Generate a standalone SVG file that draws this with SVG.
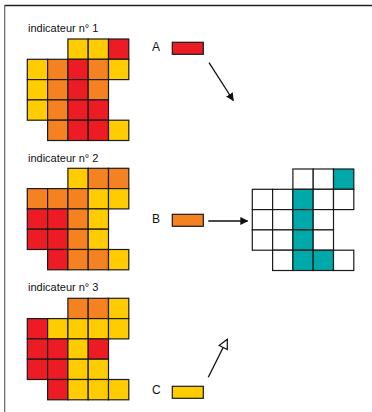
<svg xmlns="http://www.w3.org/2000/svg" width="372" height="412" viewBox="0 0 372 412">
<defs>
<style>
.c{stroke:#1a1a1a;stroke-width:1.2}
.r{fill:#ED1C24}.o{fill:#F58220}.y{fill:#FFCC00}.w{fill:#ffffff}.t{fill:#00A9A9}
.lbl{font-family:"Liberation Sans",Arial,sans-serif;font-size:11px;fill:#111}
.let{font-family:"Liberation Sans",Arial,sans-serif;font-size:12px;fill:#111}
.conn{stroke:#111;stroke-width:1.3;fill:none}
</style>
<marker id="af" viewBox="0 0 10 10" refX="9" refY="5" markerWidth="8" markerHeight="8" markerUnits="userSpaceOnUse" orient="auto"><path d="M0,0 L10,5 L0,10 Z" fill="#111"/></marker>
<marker id="ao" viewBox="0 0 12 12" refX="11" refY="6" markerWidth="11" markerHeight="11" markerUnits="userSpaceOnUse" orient="auto"><path d="M1,1 L11,6 L1,11 Z" fill="#fff" stroke="#111" stroke-width="1.3"/></marker>
</defs>
<rect width="372" height="412" fill="#fff"/>
<line x1="4.7" y1="5.5" x2="372" y2="5.5" stroke="#222" stroke-width="1.3"/>
<line x1="4.7" y1="5" x2="4.7" y2="412" stroke="#666" stroke-width="1.2"/>

<g id="indicateur1">
<text class="lbl" x="28" y="32">indicateur n° 1</text>
<g transform="translate(27.3,39)">
<rect class="c y" x="40.6" y="0" width="20.3" height="20.3"/><rect class="c y" x="60.9" y="0" width="20.3" height="20.3"/><rect class="c r" x="81.2" y="0" width="20.3" height="20.3"/>
<rect class="c y" x="0" y="20.3" width="20.3" height="20.3"/><rect class="c o" x="20.3" y="20.3" width="20.3" height="20.3"/><rect class="c r" x="40.6" y="20.3" width="20.3" height="20.3"/><rect class="c o" x="60.9" y="20.3" width="20.3" height="20.3"/><rect class="c y" x="81.2" y="20.3" width="20.3" height="20.3"/>
<rect class="c y" x="0" y="40.6" width="20.3" height="20.3"/><rect class="c o" x="20.3" y="40.6" width="20.3" height="20.3"/><rect class="c r" x="40.6" y="40.6" width="20.3" height="20.3"/><rect class="c o" x="60.9" y="40.6" width="20.3" height="20.3"/>
<rect class="c y" x="0" y="60.9" width="20.3" height="20.3"/><rect class="c o" x="20.3" y="60.9" width="20.3" height="20.3"/><rect class="c r" x="40.6" y="60.9" width="20.3" height="20.3"/><rect class="c r" x="60.9" y="60.9" width="20.3" height="20.3"/>
<rect class="c o" x="20.3" y="81.2" width="20.3" height="20.3"/><rect class="c r" x="40.6" y="81.2" width="20.3" height="20.3"/><rect class="c r" x="60.9" y="81.2" width="20.3" height="20.3"/><rect class="c y" x="81.2" y="81.2" width="20.3" height="20.3"/>
</g>
</g>

<g id="indicateur2">
<text class="lbl" x="28" y="161.5">indicateur n° 2</text>
<g transform="translate(27.3,168.3)">
<rect class="c y" x="40.6" y="0" width="20.3" height="20.3"/><rect class="c o" x="60.9" y="0" width="20.3" height="20.3"/><rect class="c o" x="81.2" y="0" width="20.3" height="20.3"/>
<rect class="c o" x="0" y="20.3" width="20.3" height="20.3"/><rect class="c o" x="20.3" y="20.3" width="20.3" height="20.3"/><rect class="c o" x="40.6" y="20.3" width="20.3" height="20.3"/><rect class="c y" x="60.9" y="20.3" width="20.3" height="20.3"/><rect class="c y" x="81.2" y="20.3" width="20.3" height="20.3"/>
<rect class="c r" x="0" y="40.6" width="20.3" height="20.3"/><rect class="c r" x="20.3" y="40.6" width="20.3" height="20.3"/><rect class="c o" x="40.6" y="40.6" width="20.3" height="20.3"/><rect class="c y" x="60.9" y="40.6" width="20.3" height="20.3"/>
<rect class="c r" x="0" y="60.9" width="20.3" height="20.3"/><rect class="c r" x="20.3" y="60.9" width="20.3" height="20.3"/><rect class="c o" x="40.6" y="60.9" width="20.3" height="20.3"/><rect class="c y" x="60.9" y="60.9" width="20.3" height="20.3"/>
<rect class="c r" x="20.3" y="81.2" width="20.3" height="20.3"/><rect class="c o" x="40.6" y="81.2" width="20.3" height="20.3"/><rect class="c o" x="60.9" y="81.2" width="20.3" height="20.3"/><rect class="c y" x="81.2" y="81.2" width="20.3" height="20.3"/>
</g>
</g>

<g id="indicateur3">
<text class="lbl" x="28" y="291">indicateur n° 3</text>
<g transform="translate(27.3,298.3)">
<rect class="c o" x="40.6" y="0" width="20.3" height="20.3"/><rect class="c o" x="60.9" y="0" width="20.3" height="20.3"/><rect class="c y" x="81.2" y="0" width="20.3" height="20.3"/>
<rect class="c r" x="0" y="20.3" width="20.3" height="20.3"/><rect class="c y" x="20.3" y="20.3" width="20.3" height="20.3"/><rect class="c y" x="40.6" y="20.3" width="20.3" height="20.3"/><rect class="c y" x="60.9" y="20.3" width="20.3" height="20.3"/><rect class="c y" x="81.2" y="20.3" width="20.3" height="20.3"/>
<rect class="c r" x="0" y="40.6" width="20.3" height="20.3"/><rect class="c r" x="20.3" y="40.6" width="20.3" height="20.3"/><rect class="c y" x="40.6" y="40.6" width="20.3" height="20.3"/><rect class="c r" x="60.9" y="40.6" width="20.3" height="20.3"/>
<rect class="c r" x="0" y="60.9" width="20.3" height="20.3"/><rect class="c r" x="20.3" y="60.9" width="20.3" height="20.3"/><rect class="c y" x="40.6" y="60.9" width="20.3" height="20.3"/><rect class="c y" x="60.9" y="60.9" width="20.3" height="20.3"/>
<rect class="c r" x="20.3" y="81.2" width="20.3" height="20.3"/><rect class="c y" x="40.6" y="81.2" width="20.3" height="20.3"/><rect class="c y" x="60.9" y="81.2" width="20.3" height="20.3"/><rect class="c y" x="81.2" y="81.2" width="20.3" height="20.3"/>
</g>
</g>

<g id="resultat">
<g transform="translate(252.3,169)">
<rect class="c w" x="40.6" y="0" width="20.3" height="20.3"/><rect class="c w" x="60.9" y="0" width="20.3" height="20.3"/><rect class="c t" x="81.2" y="0" width="20.3" height="20.3"/>
<rect class="c w" x="0" y="20.3" width="20.3" height="20.3"/><rect class="c w" x="20.3" y="20.3" width="20.3" height="20.3"/><rect class="c t" x="40.6" y="20.3" width="20.3" height="20.3"/><rect class="c w" x="60.9" y="20.3" width="20.3" height="20.3"/><rect class="c w" x="81.2" y="20.3" width="20.3" height="20.3"/>
<rect class="c w" x="0" y="40.6" width="20.3" height="20.3"/><rect class="c w" x="20.3" y="40.6" width="20.3" height="20.3"/><rect class="c t" x="40.6" y="40.6" width="20.3" height="20.3"/><rect class="c w" x="60.9" y="40.6" width="20.3" height="20.3"/>
<rect class="c w" x="0" y="60.9" width="20.3" height="20.3"/><rect class="c w" x="20.3" y="60.9" width="20.3" height="20.3"/><rect class="c t" x="40.6" y="60.9" width="20.3" height="20.3"/><rect class="c w" x="60.9" y="60.9" width="20.3" height="20.3"/>
<rect class="c w" x="20.3" y="81.2" width="20.3" height="20.3"/><rect class="c t" x="40.6" y="81.2" width="20.3" height="20.3"/><rect class="c t" x="60.9" y="81.2" width="20.3" height="20.3"/><rect class="c w" x="81.2" y="81.2" width="20.3" height="20.3"/>
</g>
</g>

<g id="legendA">
<text class="let" x="152" y="50.5">A</text>
<rect class="c r" x="172.3" y="42.3" width="31" height="12"/>
</g>
<g id="legendB">
<text class="let" x="152" y="223">B</text>
<rect class="c o" x="172.3" y="214.3" width="31" height="12"/>
</g>
<g id="legendC">
<text class="let" x="152" y="394">C</text>
<rect class="c y" x="172.3" y="386.3" width="31" height="12"/>
</g>

<g id="connectors">
<line class="conn" x1="209" y1="62.7" x2="233.3" y2="100.5" marker-end="url(#af)"/>
<line class="conn" x1="208.3" y1="221" x2="247.5" y2="221" marker-end="url(#af)"/>
<line class="conn" x1="208.3" y1="377.3" x2="227.3" y2="339.3" marker-end="url(#ao)"/>
</g>
</svg>
